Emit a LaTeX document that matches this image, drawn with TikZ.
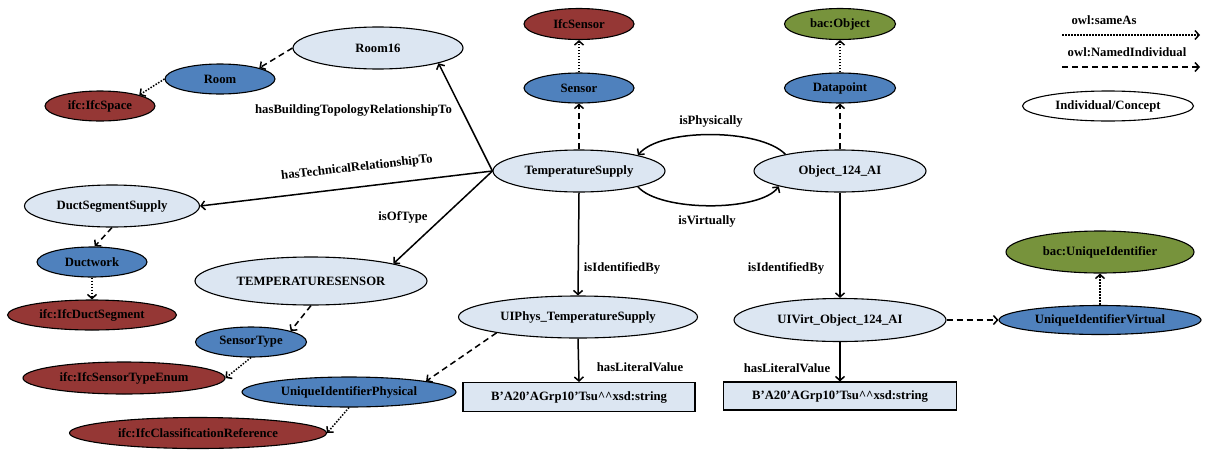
\documentclass[tikz,border=0pt]{standalone}
\usepackage{fontspec}
\setmainfont{Liberation Serif}
\usetikzlibrary{arrows.meta,shapes.geometric}
\definecolor{lightfill}{HTML}{DCE6F2}
\definecolor{midblue}{HTML}{4F81BD}
\definecolor{darkred}{HTML}{953735}
\definecolor{olivegreen}{HTML}{77933C}
\begin{document}
\begin{tikzpicture}[x=1pt,y=-1pt,
  every node/.style={font=\fontsize{12.7}{14}\selectfont\bfseries},
  ell/.style={ellipse,draw=black,line width=1.1pt,inner sep=0pt},
  indiv/.style={ell,fill=lightfill},
  cls/.style={ell,fill=midblue},
  ifcc/.style={ell,fill=darkred},
  bacc/.style={ell,fill=olivegreen},
  legell/.style={ell,fill=white},
  lit/.style={rectangle,draw=black,line width=1.1pt,fill=lightfill,inner sep=0pt},
  rel/.style={line width=1.5pt,-{Straight Barb[length=4pt,width=9pt]}},
  same/.style={rel,dash pattern=on 1.5pt off 1.5pt},
  named/.style={rel,dash pattern=on 6pt off 4pt},
  lbl/.style={inner sep=0pt}
]
\useasboundingbox (0,0) rectangle (1206,450);

% nodes
\node[indiv,minimum width=170pt,minimum height=42pt] (room16) at (378,48) {Room16};
\node[cls,minimum width=110pt,minimum height=30pt] (room) at (220,79) {Room};
\node[ifcc,minimum width=110pt,minimum height=30pt] (ifcspace) at (100,106) {ifc:IfcSpace};
\node[ifcc,minimum width=110pt,minimum height=31pt] (ifcsensor) at (579,24) {IfcSensor};
\node[cls,minimum width=110pt,minimum height=30pt] (sensor) at (579,88) {Sensor};
\node[indiv,minimum width=172pt,minimum height=42pt] (ts) at (579,171) {TemperatureSupply};
\node[indiv,minimum width=172pt,minimum height=42pt] (obj) at (840,171) {Object\_124\_AI};
\node[bacc,minimum width=111pt,minimum height=31pt] (bacobj) at (840,24) {bac:Object};
\node[cls,minimum width=111pt,minimum height=30pt] (datapoint) at (840,88) {Datapoint};
\node[indiv,minimum width=175pt,minimum height=42pt] (dss) at (112,206) {DuctSegmentSupply};
\node[cls,minimum width=110pt,minimum height=30pt] (ductwork) at (92,262) {Ductwork};
\node[ifcc,minimum width=169pt,minimum height=30pt] (ifcduct) at (92,315) {ifc:IfcDuctSegment};
\node[indiv,minimum width=232pt,minimum height=48pt] (tsensor) at (311,281) {TEMPERATURESENSOR};
\node[cls,minimum width=111pt,minimum height=30pt] (stype) at (251,342) {SensorType};
\node[ifcc,minimum width=202pt,minimum height=32pt] (ifcstype) at (124,378) {ifc:IfcSensorTypeEnum};
\node[cls,minimum width=214pt,minimum height=30pt] (uidp) at (349,392) {UniqueIdentifierPhysical};
\node[ifcc,minimum width=257pt,minimum height=31pt] (ifcclass) at (198,433) {ifc:IfcClassificationReference};
\node[indiv,minimum width=239pt,minimum height=42pt] (uiphys) at (578,317) {UIPhys\_TemperatureSupply};
\node[lit,minimum width=232pt,minimum height=29pt] (lit1) at (579,397) {B’A20’AGrp10’Tsu\^{}\^{}xsd:string};
\node[indiv,minimum width=212pt,minimum height=43pt] (uivirt) at (840,320) {UIVirt\_Object\_124\_AI};
\node[lit,minimum width=233pt,minimum height=28pt] (lit2) at (840,396) {B’A20’AGrp10’Tsu\^{}\^{}xsd:string};
\node[cls,minimum width=202pt,minimum height=29pt] (uidv) at (1100,320) {UniqueIdentifierVirtual};
\node[bacc,minimum width=188pt,minimum height=42pt] (bacuid) at (1100,252) {bac:UniqueIdentifier};

% legend
\node[lbl] (legsame) at (1104,20) {owl:sameAs};
\node[lbl] (legnamed) at (1127,52) {owl:NamedIndividual};
\coordinate (ls1) at (1062,35);
\coordinate (ls2) at (1200,35);
\coordinate (ln1) at (1062,67);
\coordinate (ln2) at (1200,67);
\draw[same] (ls1) -- (ls2);
\draw[named] (ln1) -- (ln2);
\node[legell,minimum width=171pt,minimum height=30pt] (legind) at (1108,106) {Individual/Concept};

% connectors
\draw[named] (room16.west) -- (room.north east);
\draw[same] (room.west) -- (ifcspace.north east);
\draw[rel] (ts.west) -- (room16.south east);
\draw[rel] (ts.west) -- (dss.east);
\draw[rel] (ts.west) -- (tsensor.north east);
\draw[named] (tsensor.south) -- (stype.north east);
\draw[same] (stype.south) -- (ifcstype.east);
\draw[named] (uiphys.191) -- (uidp.8);
\draw[same] (uidp.south) -- (ifcclass.east);
\draw[named] (dss.south) -- (ductwork.80);
\draw[same] (ductwork.south) -- (ifcduct.north);
\draw[named] (ts.north) -- (sensor.south);
\draw[same] (sensor.north) -- (ifcsensor.south);
\draw[named] (obj.north) -- (datapoint.south);
\draw[same] (datapoint.north) -- (bacobj.south);
\draw[rel] (obj.163) .. controls (760,128) and (660,128) .. (ts.15);
\draw[rel] (ts.-15) .. controls (660,212) and (760,212) .. (obj.194);
\draw[rel] (ts.south) -- (uiphys.north);
\draw[rel] (uiphys.south) -- (lit1.north);
\draw[rel] (obj.south) -- (uivirt.north);
\draw[rel] (uivirt.south) -- (lit2.north);
\draw[named] (uivirt.east) -- (uidv.west);
\draw[same] (uidv.north) -- (bacuid.south);

% labels
\node[lbl] (l1) at (353.5,110) {hasBuildingTopologyRelationshipTo};
\node[lbl,rotate=6.5] (l2) at (357,168) {hasTechnicalRelationshipTo};
\node[lbl] (l3) at (403,217) {isOfType};
\node[lbl] (l4) at (711,121) {isPhysically};
\node[lbl] (l5) at (707,221) {isVirtually};
\node[lbl] (l6) at (622,268) {isIdentifiedBy};
\node[lbl] (l7) at (640,367) {hasLiteralValue};
\node[lbl] (l8) at (786,268) {isIdentifiedBy};
\node[lbl] (l9) at (787,368) {hasLiteralValue};
\end{tikzpicture}
\end{document}
